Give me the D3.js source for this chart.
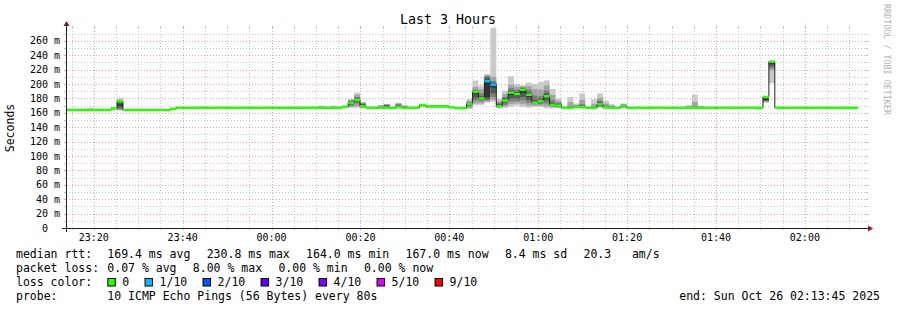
<!DOCTYPE html>
<html>
<head>
<meta charset="utf-8">
<script src="https://cdn.jsdelivr.net/npm/d3@7"></script>
<style>
  body { margin: 0; background: #fff; }
  svg text { font-family: "DejaVu Sans Mono", monospace; fill: #000; }
</style>
</head>
<body>
<svg id="chart" width="897" height="310"></svg>
<script>
// --- data ---
const stepSeconds = 80
const firstStep = "2025-10-25T23:13:14"
const graphStart = "2025-10-25T23:13:45"
const graphEnd = "2025-10-26T02:13:45"
const yMax = 277.8 // ms, top of the canvas

// median rtt per 80s step (ms)
const median = [
  164, 164, 164, 164, 164, 164, 164, 164, 166, 176,     // 0
  164, 164, 164, 164, 164, 164, 164, 164, 165.5, 167,   // 10
  167, 167, 167, 167, 167, 167, 167, 167, 167, 167,     // 20
  167, 167, 167, 167, 167, 167, 167, 167, 167, 167,     // 30
  167, 167, 167, 167, 167, 167, 167, 168.5, 174, 178,   // 40
  169, 167, 167, 167, 167, 167, 168, 167, 167, 167,     // 50
  170.5, 169, 169, 169, 169, 167.5, 166.5, 166.5, 172.5, 189, // 60
  180, 204, 199, 169, 177, 188, 186, 192, 185, 174,     // 70
  176, 183, 171, 170, 167, 167, 168, 168, 167, 167,     // 80
  172, 167.5, 167, 167, 169, 167, 167, 167, 167, 167,   // 90
  167, 167, 167, 167, 167, 167, 167, 167, 167, 167,     // 100
  167, 167, 167, 167, 167, 167, 167, 167, 182, 231,     // 110
  167, 167, 167, 167, 167, 167, 167, 167, 167, 167,     // 120
  167, 167, 167, 167                                    // 130
]

// steps with packet loss: [step, lost pings]
const lossSteps = [[71, 1], [72, 1]]

// sorted ping times of steps that show smoke: [step, [10 pings in ms]]
const smoke = [
  [4, [163, 163, 164, 164, 164, 164, 164, 165, 165, 167]],
  [8, [165, 165, 165, 166, 166, 166, 166, 167, 167, 167]],
  [9, [163, 164, 165, 167, 170, 172, 175, 177, 178, 181]],
  [43, [166, 167, 167, 167, 167, 167, 168, 168, 169, 170]],
  [45, [166, 167, 167, 167, 167, 167, 168, 168, 169, 170]],
  [48, [167, 168, 170, 172, 174, 175, 176, 177, 178, 179]],
  [49, [167, 169, 173, 176, 178, 179, 180, 182, 185, 188]],
  [50, [166, 167, 168, 169, 170, 171, 172, 173, 174, 175]],
  [53, [166, 167, 167, 167, 167, 167, 168, 169, 170, 171]],
  [54, [167, 168, 169, 169, 170, 170, 171, 171, 172, 172]],
  [56, [167, 167, 168, 168, 169, 169, 170, 172, 173, 174]],
  [57, [166, 167, 167, 167, 167, 168, 168, 169, 170, 171]],
  [60, [169, 169, 170, 170, 170, 171, 171, 172, 172, 173]],
  [61, [167, 168, 168, 168, 169, 169, 169, 170, 170, 171]],
  [62, [167, 168, 168, 168, 169, 169, 169, 170, 170, 171]],
  [63, [167, 168, 168, 168, 169, 169, 169, 170, 170, 171]],
  [64, [167, 168, 168, 168, 169, 169, 169, 170, 170, 171]],
  [68, [165, 167, 169, 171, 172, 173, 174, 175, 177, 179]],
  [69, [171, 173, 177, 181, 186, 189, 190, 192, 196, 205]],
  [70, [171, 173, 176, 178, 180, 181, 183, 187, 193, 198]],
  [71, [174, 176, 177, 179, 182, 206, 209, 211, 212, 214]],
  [72, [175, 178, 182, 187, 195, 200, 202, 204, 210, 278]],
  [73, [167, 167, 168, 168, 169, 170, 172, 174, 176, 179]],
  [74, [167, 169, 171, 174, 176, 178, 180, 182, 186, 191]],
  [75, [168, 172, 176, 180, 185, 189, 191, 194, 199, 211]],
  [76, [170, 173, 176, 180, 184, 187, 189, 192, 196, 200]],
  [77, [168, 172, 177, 182, 188, 192, 194, 195, 197, 198]],
  [78, [167, 170, 174, 178, 182, 186, 188, 192, 197, 202]],
  [79, [168, 170, 172, 173, 174, 175, 178, 184, 193, 200]],
  [80, [168, 170, 172, 174, 175, 177, 179, 183, 192, 203]],
  [81, [166, 169, 173, 177, 181, 184, 187, 191, 198, 205]],
  [82, [166, 168, 169, 170, 171, 172, 174, 178, 185, 193]],
  [83, [167, 167, 168, 169, 170, 171, 172, 174, 177, 180]],
  [85, [166, 166, 167, 167, 167, 168, 168, 169, 175, 182]],
  [86, [167, 167, 167, 168, 168, 168, 169, 170, 171, 173]],
  [87, [166, 167, 167, 168, 168, 169, 170, 172, 178, 187]],
  [89, [166, 167, 167, 167, 167, 168, 168, 169, 172, 179]],
  [90, [167, 168, 169, 170, 171, 173, 175, 177, 181, 187]],
  [91, [166, 167, 167, 167, 168, 168, 169, 170, 173, 177]],
  [92, [166, 167, 167, 167, 167, 168, 168, 169, 170, 172]],
  [94, [167, 167, 168, 168, 169, 169, 170, 171, 172, 173]],
  [105, [166, 167, 167, 167, 167, 167, 168, 168, 169, 171]],
  [106, [166, 167, 167, 167, 167, 168, 168, 169, 175, 185]],
  [107, [166, 167, 167, 167, 167, 167, 167, 168, 169, 170]],
  [118, [174, 175, 176, 177, 178, 180, 181, 182, 182, 183]],
  [119, [201, 219, 222, 225, 228, 230, 230, 231, 231, 232]]
]

const yMajorTicks = [20, 40, 60, 80, 100, 120, 140, 160, 180, 200, 220, 240, 260]
const yLabelTicks = [0, 20, 40, 60, 80, 100, 120, 140, 160, 180, 200, 220, 240, 260]
const smokeColors = ["#cacaca", "#a4a4a4", "#7e7e7e", "#585858", "#323232"]
const lossLabels = ["0", "1/10", "2/10", "3/10", "4/10", "5/10", "9/10"]
const lossColors = ["#26ff00", "#00b8ff", "#0059ff", "#5e00ff", "#7e00ff", "#dd00ff", "#ff0000"]
const rttItems = ["169.4 ms avg", "230.8 ms max", "164.0 ms min", "167.0 ms now", "8.4 ms sd", "20.3   am/s"]
const lossItems = ["0.07 % avg", "8.00 % max", "0.00 % min", "0.00 % now"]
const probeText = "10 ICMP Echo Pings (56 Bytes) every 80s"
const endText = "end: Sun Oct 26 02:13:45 2025"

// --- layout ---
const LEFT = 66, RIGHT = 866, TOP = 28, BOTTOM = 228
const GRID = "rgba(143,143,143,0.5)"
const MGRID = "rgba(222,79,79,0.55)"
const DASH = "1,2"
const AXIS = "#1f1f1f"
const ARROW = "#801f1f"

const svg = d3.select("#chart")
const parse = d3.timeParse("%Y-%m-%dT%H:%M:%S")
const t0 = parse(firstStep)
const stepTime = i => d3.timeSecond.offset(t0, i * stepSeconds)

const x = d3.scaleTime()
    .domain([parse(graphStart), parse(graphEnd)])
    .range([LEFT, RIGHT])
const y = d3.scaleLinear()
    .domain([0, yMax])
    .range([BOTTOM, TOP])

const px = v => Math.round(v) + 0.5

svg.append("defs").append("clipPath").attr("id", "plot")
    .append("rect")
    .attr("x", LEFT).attr("y", TOP)
    .attr("width", RIGHT - LEFT).attr("height", BOTTOM - TOP)

// grid
const grid = svg.append("g")
const minutes = d3.timeMinute.every(5).range(x.domain()[0], x.domain()[1])
minutes.forEach(function (m) {
    const major = m.getMinutes() % 20 === 0
    const c = major ? MGRID : GRID
    const gx = px(x(m))
    grid.append("line").attr("x1", gx).attr("x2", gx).attr("y1", TOP).attr("y2", BOTTOM)
        .style("stroke", c).style("stroke-dasharray", DASH)
    grid.append("line").attr("x1", gx).attr("x2", gx).attr("y1", BOTTOM).attr("y2", BOTTOM + 2)
        .style("stroke", c)
    grid.append("line").attr("x1", gx).attr("x2", gx).attr("y1", TOP - 2).attr("y2", TOP)
        .style("stroke", c)
})
y.ticks(28).forEach(function (v) {
    if (v === 0 || v > yMax) return
    const c = yMajorTicks.includes(v) ? MGRID : GRID
    const gy = px(y(v))
    grid.append("line").attr("x1", LEFT).attr("x2", RIGHT).attr("y1", gy).attr("y2", gy)
        .style("stroke", c).style("stroke-dasharray", DASH)
    grid.append("line").attr("x1", LEFT - 2).attr("x2", LEFT).attr("y1", gy).attr("y2", gy)
        .style("stroke", c)
    grid.append("line").attr("x1", RIGHT).attr("x2", RIGHT + 2).attr("y1", gy).attr("y2", gy)
        .style("stroke", c)
})

// smoke
const plot = svg.append("g").attr("clip-path", "url(#plot)")
smoke.forEach(function ([i, pings]) {
    const xa = x(stepTime(i)), xb = x(stepTime(i + 1))
    for (let k = 0; k < 5; k++) {
        plot.append("rect")
            .attr("x", xa).attr("width", xb - xa)
            .attr("y", y(pings[9 - k]))
            .attr("height", y(pings[k]) - y(pings[9 - k]))
            .style("fill", smokeColors[k])
    }
})

// median line
const pts = median.map((v, i) => [stepTime(i), v])
pts.push([stepTime(median.length), median[median.length - 1]])
plot.append("path")
    .attr("d", d3.line().x(d => x(d[0])).y(d => y(d[1])).curve(d3.curveStepAfter)(pts))
    .style("fill", "none").style("stroke", "#202020").style("stroke-width", 1)

// loss coloured median band
const lossOf = new Map(lossSteps)
median.forEach(function (v, i) {
    const xa = x(stepTime(i)), xb = x(stepTime(i + 1))
    plot.append("rect")
        .attr("x", xa).attr("width", xb - xa)
        .attr("y", y(v) - 1.25).attr("height", 2.5)
        .style("fill", lossColors[lossOf.get(i) || 0])
})

// axes
svg.append("line").attr("x1", LEFT - 4).attr("x2", RIGHT + 4).attr("y1", BOTTOM + 0.5).attr("y2", BOTTOM + 0.5)
    .style("stroke", AXIS)
svg.append("line").attr("x1", LEFT + 0.5).attr("x2", LEFT + 0.5).attr("y1", BOTTOM + 4).attr("y2", TOP - 4)
    .style("stroke", AXIS)
svg.append("polygon")
    .attr("points", [[RIGHT + 2, BOTTOM - 2.5], [RIGHT + 2, BOTTOM + 3.5], [RIGHT + 7, BOTTOM + 0.5]].join(" "))
    .style("fill", ARROW)
svg.append("polygon")
    .attr("points", [[LEFT - 2.5, TOP - 2], [LEFT + 3.5, TOP - 2], [LEFT + 0.5, TOP - 7]].join(" "))
    .style("fill", ARROW)

// tick labels
const fmt = d3.timeFormat("%H:%M")
d3.timeMinute.every(20).range(x.domain()[0], x.domain()[1]).forEach(function (m) {
    svg.append("text").attr("x", x(m)).attr("y", 241)
        .attr("text-anchor", "middle").style("font-size", "10px")
        .text(fmt(m))
})
yLabelTicks.forEach(function (v) {
    svg.append("text").attr("x", v === 0 ? 48 : 60).attr("y", y(v) + 3.6)
        .attr("text-anchor", "end").style("font-size", "10px")
        .text(v === 0 ? "0" : v + " m")
})

// title, axis label, watermark
svg.append("text").attr("x", 448).attr("y", 24).attr("text-anchor", "middle")
    .style("font-size", "13.3px").text("Last 3 Hours")
svg.append("text").attr("transform", "translate(14," + ((TOP + BOTTOM) / 2) + ") rotate(-90)")
    .attr("text-anchor", "middle").style("font-size", "11.5px").text("Seconds")
svg.append("text").attr("transform", "translate(884,4) rotate(90)")
    .style("font-size", "8.4px").style("fill", "#b3b3b3")
    .text("RRDTOOL / TOBI OETIKER")

// legend
const LEG = 11.5
const COL = 107.3
const GAP = 16.3
function legendText(xp, yp, s) {
    return svg.append("text").attr("x", xp).attr("y", yp)
        .attr("xml:space", "preserve").style("white-space", "pre")
        .style("font-size", LEG + "px").text(s)
}
function legendRow(yp, label, items) {
    legendText(16, yp, label)
    let cx = COL
    items.forEach(function (s) {
        const t = legendText(cx, yp, s)
        cx += t.node().getComputedTextLength() + GAP
    })
}
legendRow(258, "median rtt:", rttItems)
legendRow(272, "packet loss:", lossItems)
legendText(16, 286, "loss color:")
let cx = COL
lossLabels.forEach(function (s, i) {
    svg.append("rect").attr("x", cx + 0.5).attr("y", 278.5).attr("width", 7.5).attr("height", 7.5)
        .style("fill", lossColors[i]).style("stroke", "#000").style("stroke-width", 1)
    const t = legendText(cx + 15, 286, s)
    cx += 15 + t.node().getComputedTextLength() + 15.3
})
legendRow(300, "probe:", [probeText])
legendText(880, 300, endText).attr("text-anchor", "end")
</script>
</body>
</html>
